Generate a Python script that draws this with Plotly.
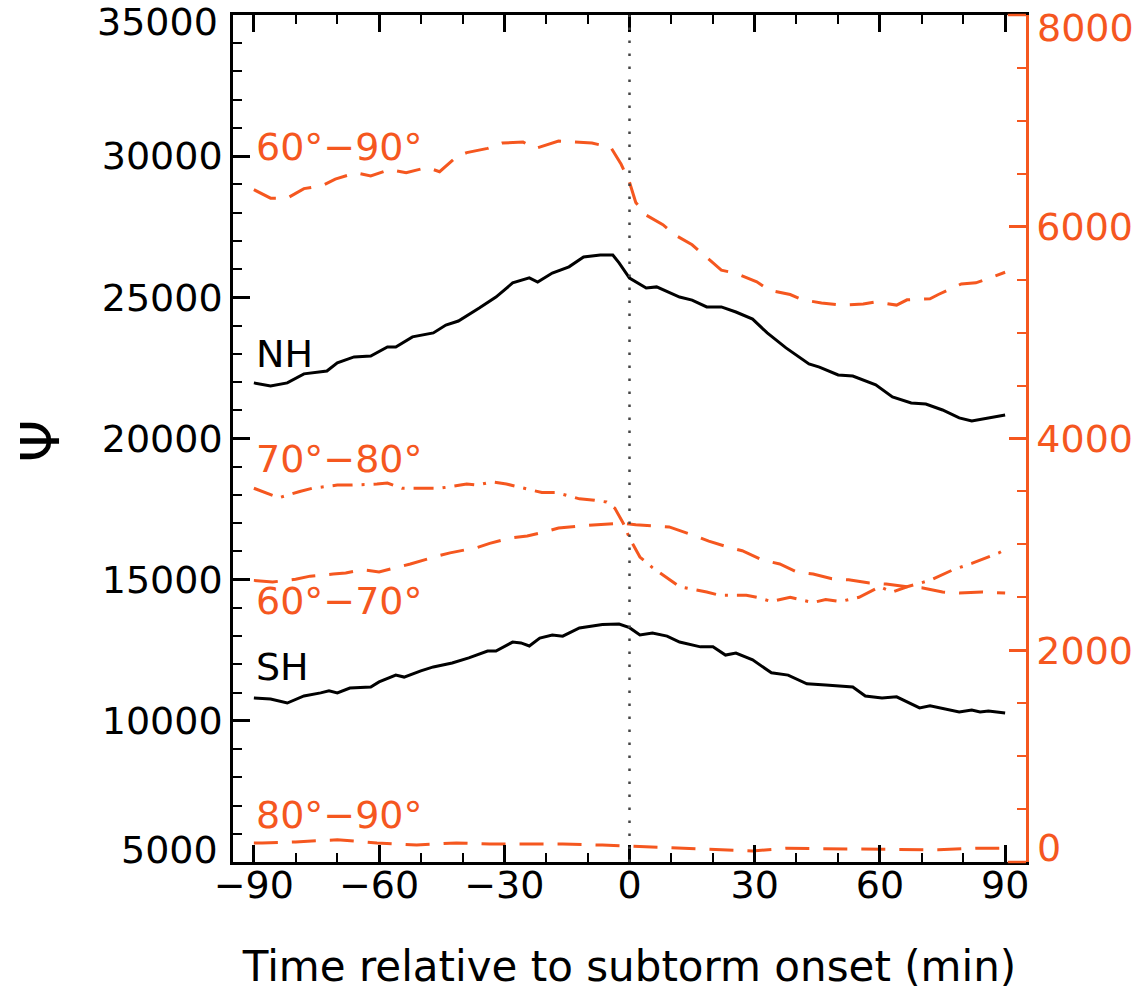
import plotly.graph_objects as go

# ---- data ----
nh_t = [-90,-86,-82,-78,-72.5,-70,-66,-62,-58,-56,-52,-47,-44,-41,-36,-32,-28,-24,-22,-18.5,-14.5,-11,-7,-4,-2.5,0,4,6.5,12,15,18.5,22,25.5,29.5,33,37.5,43,45.5,50,53.5,59,63,67.5,71,75,79,82,86,90]
nh_v = [21970,21860,21970,22290,22390,22680,22890,22920,23240,23240,23600,23740,24020,24160,24620,25010,25510,25690,25540,25860,26080,26430,26500,26500,26220,25680,25330,25370,25010,24900,24660,24660,24480,24230,23740,23210,22640,22530,22250,22210,21900,21470,21260,21220,21010,20730,20620,20730,20830]

sh_t = [-90,-86,-82,-78,-74,-72,-70,-67,-62,-60,-56,-54,-50,-47,-42.5,-38.5,-34,-32,-28,-26,-24,-21.5,-18.5,-16,-12,-6.5,-2.5,0,2.5,5.5,9,12,17,20,23,25.5,29.5,34,38,42.5,47,53.5,56.5,60.5,64,69.5,72,79,82,84,86,90]
sh_v = [10810,10770,10630,10880,10990,11060,10990,11160,11200,11380,11620,11550,11770,11910,12050,12230,12470,12470,12790,12760,12650,12930,13040,13000,13290,13410,13430,13300,13040,13110,13000,12790,12620,12620,12330,12400,12160,11700,11620,11310,11270,11200,10880,10810,10850,10460,10530,10310,10380,10310,10350,10280]

b6090_t = [-90,-86,-82,-78,-73.5,-70.5,-65.5,-62,-57.5,-53.5,-48.5,-45.5,-41.5,-39,-34,-30.5,-25.5,-22.5,-17,-13.5,-9,-4.5,-2,0,1.5,4,8,11,15,18.5,22,25.5,30.5,33.5,38.5,41.5,46,50.5,56,59,64,66.5,72,74,79.5,83,88,90]
b6090_v = [6350,6270,6270,6360,6390,6450,6510,6480,6540,6510,6560,6520,6660,6700,6740,6790,6800,6740,6810,6800,6790,6750,6590,6420,6230,6110,6020,5920,5830,5710,5590,5560,5480,5400,5360,5310,5280,5260,5270,5290,5260,5310,5320,5360,5460,5470,5540,5570]

b7080_t = [-90,-84,-79,-76,-70,-67,-60.5,-58,-54.5,-49.5,-45.5,-40.5,-39,-36.5,-33,-29.5,-26.5,-21,-17.5,-12,-9,-5.5,-3.5,-1.5,0,2.5,5.5,12,18.5,21.5,28,30.5,34,38.5,44,47,50.5,55,60,63,66.5,72,77.5,82,88.5,90]
b7080_v = [3530,3440,3500,3530,3560,3560,3570,3580,3530,3530,3530,3560,3570,3560,3590,3570,3540,3490,3490,3430,3420,3400,3340,3200,3060,2880,2780,2600,2550,2520,2520,2500,2460,2500,2450,2480,2460,2500,2600,2550,2600,2660,2760,2820,2920,2950]

b6070_t = [-90,-85.5,-80,-76.5,-71,-68,-64,-60,-55,-52.5,-46,-43,-36.5,-33.5,-28.5,-24.5,-20,-17,-11.5,-7,-2,1.5,6.5,9.5,15,19,24,27,32,36,40,44,48.5,52.5,57.5,61.5,66.5,70,75,79,84.5,90]
b6070_v = [2660,2645,2670,2700,2720,2730,2760,2740,2790,2815,2890,2920,2970,3010,3060,3080,3120,3155,3175,3185,3200,3185,3175,3165,3090,3030,2970,2940,2850,2815,2740,2720,2675,2665,2635,2625,2600,2590,2550,2540,2550,2540]

b8090_t = [-90,-88,-80,-70,-60.5,-51,-41.5,-33.5,-24,-16,-6.5,0,10,20,29.5,37.5,47,56.5,64.5,74,83,90]
b8090_v = [180,180,190,210,180,160,180,170,170,170,160,150,130,115,105,130,125,125,115,115,130,130]

x_ticks = [-90, -60, -30, 0, 30, 60, 90]
left_ticks = [5000, 10000, 15000, 20000, 25000, 30000, 35000]
right_ticks = [0, 2000, 4000, 6000, 8000]

# labels: (text, y on left axis, colour key)
labels = [("60°−90°", 30330, "o"), ("NH", 23000, "k"), ("70°−80°", 19280, "o"),
          ("60°−70°", 14250, "o"), ("SH", 11900, "k"), ("80°−90°", 6660, "o")]

ORANGE = "#F5571F"
BLACK = "black"
FONT = "DejaVu Sans"
DASH = "24px,14px"
DASHDOT = "20px,9px,3px,9px"
LW = 3
TICKFONT = 38

fig = go.Figure()
fig.add_trace(go.Scatter(x=nh_t, y=nh_v, mode="lines", line=dict(color=BLACK, width=LW), yaxis="y"))
fig.add_trace(go.Scatter(x=sh_t, y=sh_v, mode="lines", line=dict(color=BLACK, width=LW), yaxis="y"))
fig.add_trace(go.Scatter(x=b6090_t, y=b6090_v, mode="lines", line=dict(color=ORANGE, width=LW, dash=DASH), yaxis="y2"))
fig.add_trace(go.Scatter(x=b7080_t, y=b7080_v, mode="lines", line=dict(color=ORANGE, width=LW, dash=DASHDOT), yaxis="y2"))
fig.add_trace(go.Scatter(x=b6070_t, y=b6070_v, mode="lines", line=dict(color=ORANGE, width=LW, dash=DASH), yaxis="y2"))
fig.add_trace(go.Scatter(x=b8090_t, y=b8090_v, mode="lines", line=dict(color=ORANGE, width=LW, dash=DASH), yaxis="y2"))

fig.add_vline(x=0, line=dict(color="#444444", width=2.5, dash="2.5px,10.5px"))

for txt, yv, c in labels:
    fig.add_annotation(x=-90, y=yv, xref="x", yref="y", text=txt, showarrow=False,
                       xanchor="left", yanchor="middle",
                       font=dict(family=FONT, size=38, color=ORANGE if c == "o" else BLACK))

# y-axis title (Ψ, rotated like an axis title)
fig.add_annotation(x=-0.2434, y=0.498, xref="paper", yref="paper", text="Ψ", showarrow=False,
                   textangle=-90, xanchor="center", yanchor="middle",
                   font=dict(family=FONT, size=54, color=BLACK))

# end tick labels, nudged inward like the original (IDL keeps them inside the axis span)
for val, yref, side, color, shift in [(left_ticks[-1], "y", "l", BLACK, -7),
                                      (left_ticks[0], "y", "l", BLACK, 12),
                                      (right_ticks[-1], "y2", "r", ORANGE, -13),
                                      (right_ticks[0], "y2", "r", ORANGE, 14)]:
    fig.add_annotation(x=0 if side == "l" else 1, xref="paper", y=val, yref=yref, text=str(val),
                       showarrow=False, xanchor="right" if side == "l" else "left", yanchor="middle",
                       xshift=-13 if side == "l" else 9, yshift=shift,
                       font=dict(family=FONT, size=TICKFONT, color=color))

# orange ends of top/bottom frame near the right axis
for yy in (0, 1):
    fig.add_shape(type="line", xref="paper", yref="paper", x0=0.977, x1=1.0, y0=yy, y1=yy,
                  line=dict(color=ORANGE, width=2.5))

fig.update_layout(
    width=1138, height=999,
    margin=dict(l=233, r=112, t=15, b=137, autoexpand=False),
    paper_bgcolor="white", plot_bgcolor="white",
    showlegend=False,
    font=dict(family=FONT, size=38, color=BLACK),
    xaxis=dict(range=[-95, 95], tickvals=x_ticks, ticktext=[f"{v}".replace("-", "−") for v in x_ticks],
               ticks="inside", ticklen=17, tickwidth=2.5, automargin=False,
               tickcolor=BLACK, showline=True, linecolor=BLACK, linewidth=2.5, mirror="ticks",
               showgrid=False, zeroline=False, ticklabelstandoff=-12,
               minor=dict(dtick=10, tick0=0, ticks="inside", ticklen=9, tickwidth=2, tickcolor=BLACK, showgrid=False),
               tickfont=dict(family=FONT, size=TICKFONT, color=BLACK),
               title=dict(text="Time relative to subtorm onset (min)", font=dict(family=FONT, size=42, color=BLACK), standoff=46)),
    yaxis=dict(range=[5000, 35000], tickvals=left_ticks,
               ticktext=[str(v) if v not in (left_ticks[0], left_ticks[-1]) else "" for v in left_ticks],
               ticks="inside", ticklen=17, tickwidth=2.5, automargin=False,
               tickcolor=BLACK, showline=True, linecolor=BLACK, linewidth=2.5,
               showgrid=False, zeroline=False,
               minor=dict(dtick=1000, tick0=0, ticks="inside", ticklen=9, tickwidth=2, tickcolor=BLACK, showgrid=False),
               tickfont=dict(family=FONT, size=TICKFONT, color=BLACK)),
    yaxis2=dict(range=[0, 8000], tickvals=right_ticks,
                ticktext=[str(v) if v not in (right_ticks[0], right_ticks[-1]) else "" for v in right_ticks],
                overlaying="y", side="right", anchor="x", automargin=False,
                ticks="inside", ticklen=17, tickwidth=2.5, tickcolor=ORANGE,
                showline=True, linecolor=ORANGE, linewidth=2.5, showgrid=False, zeroline=False,
                minor=dict(dtick=500, tick0=0, ticks="inside", ticklen=9, tickwidth=2, tickcolor=ORANGE, showgrid=False),
                tickfont=dict(family=FONT, size=TICKFONT, color=ORANGE)),
)

fig.write_html("out.html")
